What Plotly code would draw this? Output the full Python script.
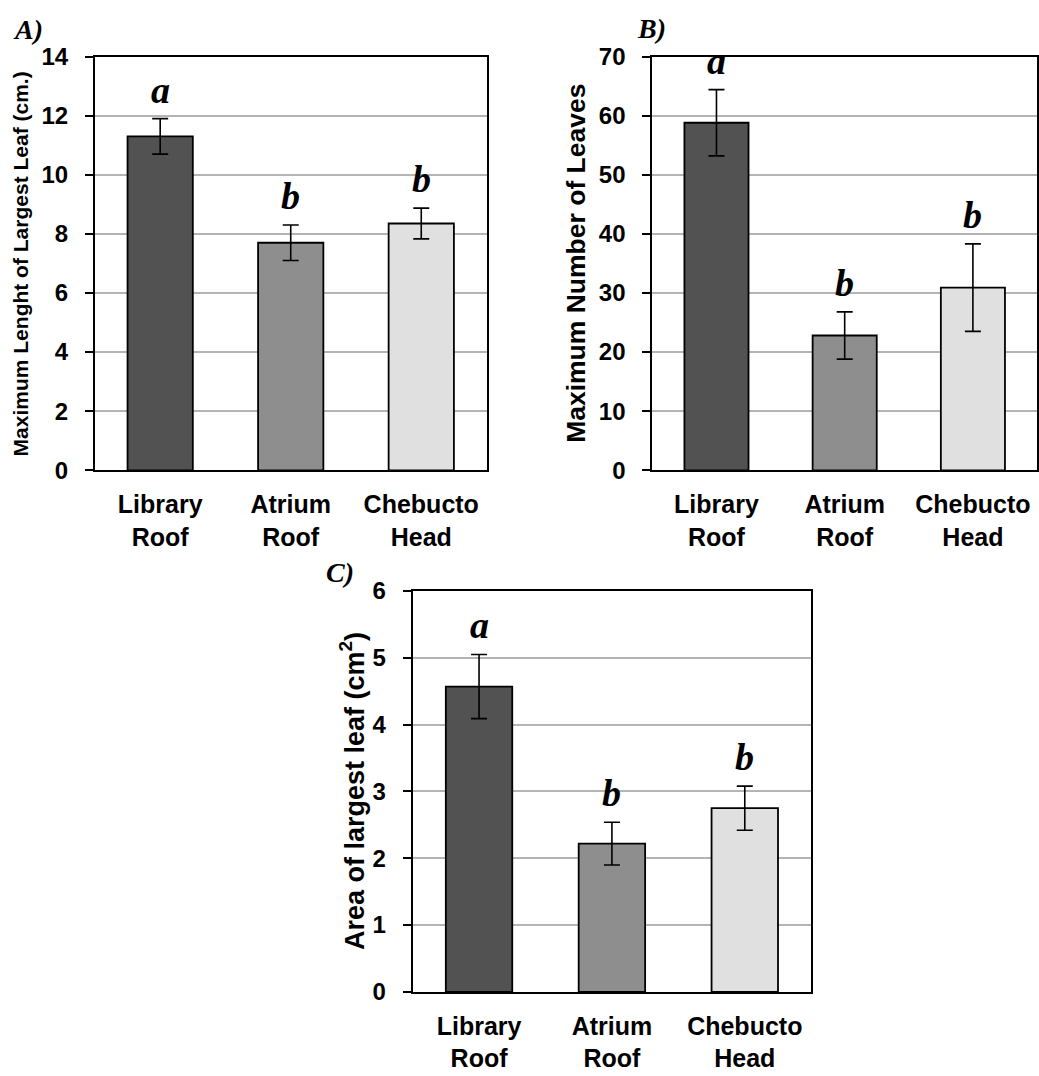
import plotly.graph_objects as go

W, H = 1039, 1076

categories = ["Library<br>Roof", "Atrium<br>Roof", "Chebucto<br>Head"]
bar_colors = ["#525252", "#8e8e8e", "#e0e0e0"]

# Panel A: Maximum length of largest leaf (cm)
len_mean = [11.3, 7.7, 8.35]
len_err = [0.6, 0.6, 0.52]
len_letters = ["a", "b", "b"]

# Panel B: Maximum number of leaves
num_mean = [58.8, 22.8, 30.9]
num_err = [5.6, 4.0, 7.4]
num_letters = ["a", "b", "b"]

# Panel C: Area of largest leaf (cm2)
area_mean = [4.57, 2.22, 2.75]
area_err = [0.48, 0.32, 0.33]
area_letters = ["a", "b", "b"]

SANS = "Liberation Sans, Arial, sans-serif"
SERIF = "Liberation Serif, Times New Roman, serif"

# the photographed page is slightly squeezed vertically; map target pixel rows
V_SCALE, V_OFF = 0.985, 9.0


def px_x(x):
    return x / W


def px_y(y):
    return 1 - ((y - V_OFF) / V_SCALE) / H


panels = [
    dict(vals=len_mean, err=len_err, letters=len_letters, rng=[0, 14], dtick=2,
         xd=[95, 487], yd=[52, 470], title="Maximum Lenght of Largest Leaf (cm.)",
         tsize=21, tx=20, label="A)", lx=11, ly=25, yshift=6),
    dict(vals=num_mean, err=num_err, letters=num_letters, rng=[0, 70], dtick=10,
         xd=[653, 1038], yd=[52, 470], title="Maximum Number of Leaves",
         tsize=26.5, tx=577, label="B)", lx=636, ly=23.5, yshift=6),
    dict(vals=area_mean, err=area_err, letters=area_letters, rng=[0, 6], dtick=1,
         xd=[413, 812], yd=[592, 997], title="Area of largest leaf (cm<sup>2</sup>)",
         tsize=27, tx=353, label="C)", lx=324, ly=573, yshift=6),
]

fig = go.Figure()
annotations = []
layout = {}

for i, p in enumerate(panels):
    n = "" if i == 0 else str(i + 1)
    xa, ya = "x" + n, "y" + n
    fig.add_trace(go.Bar(
        x=categories, y=p["vals"], xaxis=xa, yaxis=ya,
        marker=dict(color=bar_colors, line=dict(color="black", width=1.8)),
        error_y=dict(type="data", array=p["err"], visible=True,
                     color="black", thickness=1.6, width=8),
        showlegend=False, hoverinfo="skip",
    ))
    layout["xaxis" + n] = dict(
        domain=[px_x(p["xd"][0]), px_x(p["xd"][1])], anchor=ya,
        showline=True, linecolor="black", linewidth=2, mirror=True,
        ticks="", showgrid=False, ticklabelstandoff=11,
        tickfont=dict(family=SANS, size=25, color="black", weight="bold"),
        fixedrange=True,
    )
    layout["yaxis" + n] = dict(
        domain=[px_y(p["yd"][1]), px_y(p["yd"][0])], anchor=xa,
        range=p["rng"], dtick=p["dtick"], tick0=0,
        showline=True, linecolor="black", linewidth=2, mirror=True,
        ticks="outside", ticklen=8, tickwidth=1.5, tickcolor="black",
        ticklabelstandoff=12,
        showgrid=True, gridcolor="#b4b4b4", gridwidth=1.5, zeroline=False,
        tickfont=dict(family=SANS, size=24, color="black", weight="bold"),
        fixedrange=True,
    )
    # significance letters
    for c, v, e, t in zip(categories, p["vals"], p["err"], p["letters"]):
        annotations.append(dict(
            x=c, y=v + e, xref=xa, yref=ya, text=t, showarrow=False,
            yanchor="bottom", xanchor="center", yshift=p["yshift"],
            font=dict(family=SERIF, size=38, color="black",
                      weight="bold", style="italic"),
        ))
    # y-axis title
    annotations.append(dict(
        x=px_x(p["tx"]), y=px_y((p["yd"][0] + p["yd"][1]) / 2),
        xref="paper", yref="paper", text=p["title"], textangle=-90,
        showarrow=False, xanchor="center", yanchor="middle",
        font=dict(family=SANS, size=p["tsize"], color="black", weight="bold"),
    ))
    # panel label
    annotations.append(dict(
        x=px_x(p["lx"]), y=px_y(p["ly"]), xref="paper", yref="paper",
        text=p["label"], showarrow=False, xanchor="left", yanchor="middle",
        font=dict(family=SERIF, size=28, color="black",
                  weight="bold", style="italic"),
    ))

fig.update_layout(
    width=W, height=H, margin=dict(l=0, r=0, t=0, b=0),
    paper_bgcolor="white", plot_bgcolor="white",
    bargap=0.5, annotations=annotations, **layout,
)

fig.write_html(
    "out.html",
    config={"displayModeBar": False},
    post_script="document.body.style.margin='0';document.body.style.overflow='hidden';",
)
